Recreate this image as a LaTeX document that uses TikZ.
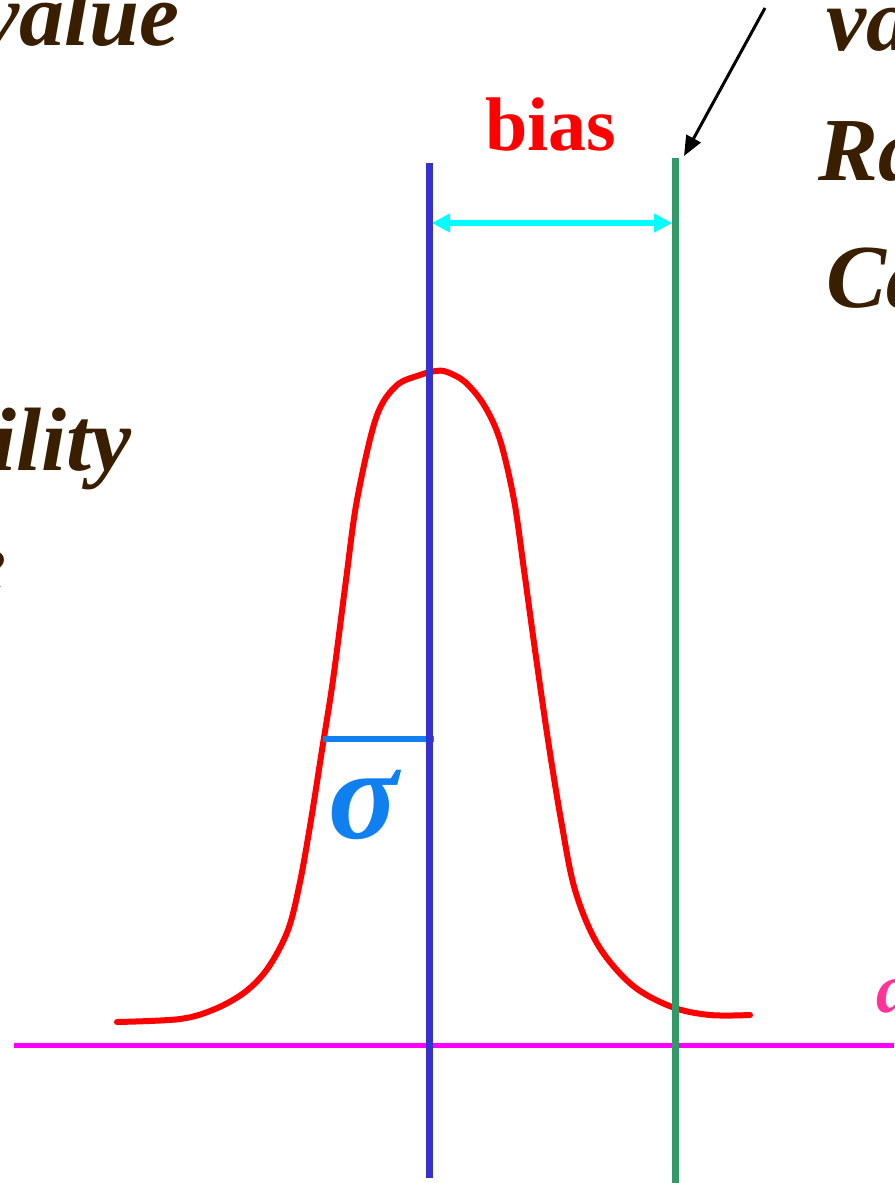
\documentclass[tikz,border=0pt]{standalone}
\usepackage{fontspec}
\setmainfont{Liberation Serif}
\usetikzlibrary{arrows.meta}
\definecolor{brownT}{RGB}{58,30,0}
\definecolor{meanblue}{RGB}{51,51,204}
\definecolor{truegreen}{RGB}{51,153,102}
\definecolor{sigblue}{RGB}{16,128,240}
\definecolor{pinkT}{RGB}{255,51,153}
\definecolor{pcyan}{RGB}{0,255,255}
\definecolor{pmagenta}{RGB}{255,0,255}
\definecolor{pred}{RGB}{255,0,0}
\tikzset{
  bigtxt/.style={inner sep=0pt, text=brownT, font=\fontsize{90}{90}\selectfont\bfseries\itshape},
  vline/.style={line width=7pt},
}
\begin{document}
\begin{tikzpicture}[x=1pt,y=-1pt]
\useasboundingbox (0,0) rectangle (894,1183);
\clip (0,0) rectangle (894,1183);
\fill[white] (0,0) rectangle (894,1183);
% texts
\node[bigtxt, anchor=base east] (val) at (180,45) {value};
\node[bigtxt, anchor=base west] (va) at (826,50) {va};
\node[bigtxt, anchor=base west] (ra) at (818,180) {Ra};
\node[bigtxt, anchor=base west] (ca) at (826,307) {Ca};
\node[bigtxt, anchor=base east] (ility) at (132,470) {ility};
\node[inner sep=0pt, text=brownT, font=\fontsize{90}{90}\selectfont\itshape, anchor=base east] (e) at (7,593) {e};
\node[inner sep=0pt, text=pred, font=\fontsize{76}{76}\selectfont\bfseries, anchor=base] (bias) at (551,150) {bias};
\node[inner sep=0pt, text=sigblue, font=\fontsize{130}{130}\selectfont\bfseries\itshape, anchor=base] (sig) at (364,838) {σ};
\node[inner sep=0pt, text=pinkT, font=\fontsize{70}{70}\selectfont\bfseries\itshape, anchor=base west] (al) at (876,1012) {a};
% coordinates
\coordinate (bt) at (429,163);
\coordinate (bb) at (429,1178);
\coordinate (gt) at (675,158);
\coordinate (gb) at (675,1183);
\coordinate (hl) at (14,1045);
\coordinate (hr) at (894,1045);
\coordinate (cl) at (432,223);
\coordinate (cr) at (672,223);
\coordinate (ks) at (765,8);
\coordinate (ke) at (684,156);
\coordinate (sl) at (323,739);
\coordinate (sr) at (434,739);
% axis
\draw[pmagenta, line width=5pt] (hl) -- (hr);
% gaussian
\draw[pred, line width=6pt, line join=round, line cap=round]
  plot[smooth, tension=0.55] coordinates {
  (117,1022) (180,1019) (215,1009) (245,992) (268,968) (288,930)
  (300,882) (311,820) (322,750) (333,680) (346,580) (357,500)
  (376,418) (396,386) (420,375) (436,371) (447,372) (465,382)
  (484,405) (500,440) (514,500) (524,570) (535,650) (548,740)
  (561,820) (575,890) (598,945) (632,985) (672,1007) (710,1015) (750,1015)};
% sigma bar
\draw[sigblue, line width=6pt] (sl) -- (sr);
% vertical lines
\draw[meanblue, vline] (bt) -- (bb);
\draw[truegreen, vline] (gt) -- (gb);
% bias arrow
\draw[pcyan, line width=6pt, {Triangle[length=18pt,width=18pt]}-{Triangle[length=18pt,width=18pt]}] (cl) -- (cr);
% pointer arrow
\draw[black, line width=3pt, -{Triangle[length=20pt,width=16pt]}] (ks) -- (ke);
\end{tikzpicture}
\end{document}
